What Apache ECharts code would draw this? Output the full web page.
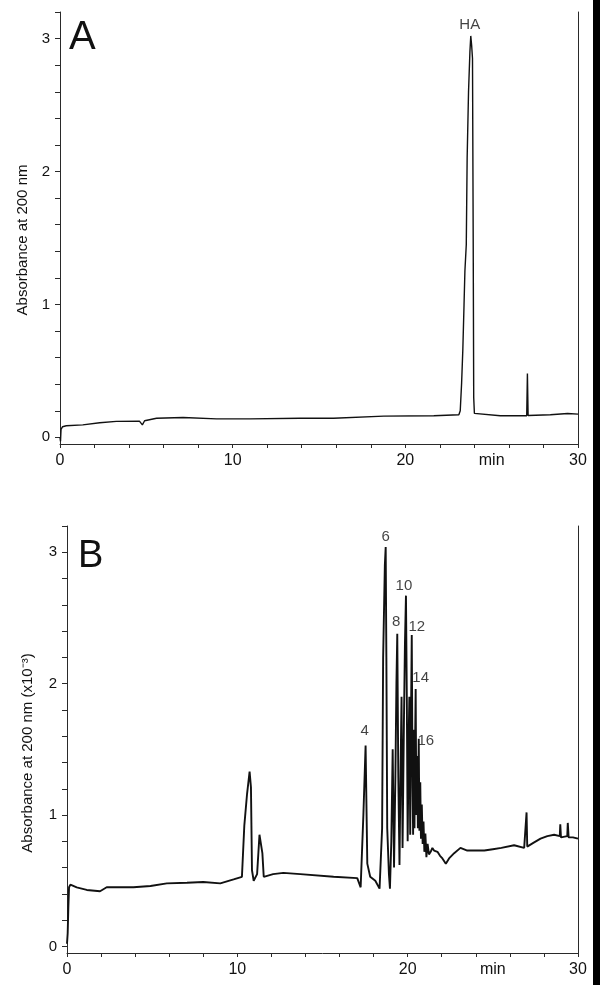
<!DOCTYPE html>
<html>
<head>
<meta charset="utf-8">
<title>HA chromatograms</title>
<script src="https://cdn.jsdelivr.net/npm/echarts@6/dist/echarts.min.js"></script>
<style>
	html, body { margin: 0; padding: 0; background: #fff; }
	#main { width: 600px; height: 985px; }
</style>
</head>
<body>
<div id="main"></div>
<script>
// panel A : HA standard, [min, absorbance]
var traceA = [
	[0, 0.0], [0.03, -0.03], [0.06, 0.06], [0.15, 0.08], [0.36, 0.087], [1.32, 0.094],
	[2.3, 0.11], [3.26, 0.12], [4.6, 0.122], [4.77, 0.094], [4.9, 0.125], [5.59, 0.144],
	[7.13, 0.149], [9.07, 0.139], [11, 0.139], [13.9, 0.144], [15.84, 0.144], [18.75, 0.16],
	[21.65, 0.162], [23.1, 0.17], [23.18, 0.2], [23.26, 0.41], [23.33, 0.66], [23.4, 1.0],
	[23.45, 1.25], [23.53, 1.45], [23.58, 2.1], [23.66, 2.6], [23.74, 2.9], [23.79, 3.02],
	[23.84, 2.95], [23.89, 2.85], [23.93, 1.5], [23.96, 0.3], [24.0, 0.18], [24.07, 0.175],
	[25.5, 0.162], [27.03, 0.162], [27.07, 0.48], [27.11, 0.164], [28.4, 0.17], [29.4, 0.18],
	[30, 0.175]
];
var peakNamesA = ['HA'];
var peakTimesA = [23.79];
var peakAbsA = [3.02];

// panel B : oligomer mixture, [min, absorbance x10^-3]
var traceB = [
	[0, 0.02], [0.04, 0.1], [0.08, 0.3], [0.12, 0.45], [0.2, 0.47], [0.57, 0.45], [1.16, 0.43],
	[1.94, 0.42], [2.33, 0.45], [3.9, 0.45], [4.9, 0.46], [5.86, 0.48], [7.04, 0.485], [8.0, 0.49],
	[9.0, 0.48], [9.78, 0.51], [10.27, 0.53], [10.41, 0.92], [10.57, 1.16], [10.72, 1.33],
	[10.8, 1.21], [10.86, 0.58], [10.96, 0.5], [11.16, 0.55], [11.3, 0.85], [11.39, 0.86],
	[11.47, 0.71], [11.55, 0.53], [12.1, 0.55], [12.7, 0.56], [13.7, 0.55], [15.65, 0.53],
	[17.04, 0.52], [17.24, 0.45], [17.4, 1.0], [17.53, 1.53], [17.63, 0.63], [17.8, 0.53],
	[18.1, 0.5], [18.35, 0.44], [18.5, 0.9], [18.56, 2.2], [18.66, 2.9], [18.71, 3.04],
	[18.75, 2.2], [18.8, 0.9], [18.9, 0.55], [18.96, 0.44], [19.04, 0.8], [19.12, 1.5],
	[19.2, 0.6], [19.28, 1.3], [19.34, 2.0], [19.39, 2.38], [19.45, 1.3], [19.52, 0.62],
	[19.58, 1.3], [19.64, 1.9], [19.7, 0.75], [19.78, 1.7], [19.84, 2.3], [19.9, 2.67],
	[19.95, 1.9], [20.0, 0.8], [20.06, 1.6], [20.1, 1.9], [20.15, 0.85], [20.2, 1.8],
	[20.24, 2.37], [20.29, 1.2], [20.32, 0.85], [20.36, 1.65], [20.4, 0.9], [20.44, 1.6],
	[20.47, 1.96], [20.51, 1.0], [20.56, 1.45], [20.6, 0.9], [20.65, 1.58], [20.69, 0.88],
	[20.74, 1.25], [20.78, 0.82], [20.83, 1.08], [20.88, 0.78], [20.93, 0.95], [20.98, 0.72],
	[21.04, 0.86], [21.1, 0.68], [21.17, 0.78], [21.25, 0.7], [21.35, 0.72], [21.45, 0.75],
	[21.55, 0.73], [21.75, 0.72], [21.9, 0.69], [22.04, 0.67], [22.24, 0.63], [22.43, 0.67],
	[22.73, 0.71], [23.1, 0.75], [23.5, 0.73], [23.9, 0.73], [24.5, 0.73], [25.0, 0.74],
	[25.5, 0.75], [26.25, 0.77], [26.84, 0.75], [26.95, 0.75], [26.98, 1.02], [27.02, 0.76],
	[27.4, 0.79], [27.8, 0.82], [28.2, 0.84], [28.6, 0.85], [28.93, 0.84], [28.96, 0.93],
	[29.0, 0.83], [29.37, 0.84], [29.4, 0.94], [29.45, 0.83], [29.7, 0.83], [30, 0.82]
];
var peakNamesB = ['4', '6', '8', '10', '12', '14', '16'];
var peakTimesB = [17.53, 18.71, 19.39, 19.9, 20.24, 20.47, 20.65];
var peakAbsB = [1.53, 3.04, 2.38, 2.67, 2.37, 1.96, 1.58];

// axes
var xTickValues = [0, 10, 20, 25, 30];
var xTickLabels = ['0', '10', '20', 'min', '30'];
var yLabelValues = [0, 1, 2, 3];
var yTickValues = [0, 0.2, 0.4, 0.6, 0.8, 1, 1.2, 1.4, 1.6, 1.8, 2, 2.2, 2.4, 2.6, 2.8, 3, 3.2];

/* ================================================================================ */
var Chromatogram = function() {
	var FONT = "'Liberation Sans', Arial, Helvetica, sans-serif";
	var INK = '#111';
	var AXIS = '#2a2a2a';

	// label offsets in px from the peak apex
	var labelOffsetA = [[-1, -11]];
	var labelOffsetB = [[-1, -15], [0, -10], [-1, -12], [-2, -10], [5, -8], [5, -11], [7, 2]];

	var buildLabels = function(names, times, values, offsets) {
		var out = [];
		for (var i = 0; i < names.length; i++) {
			out.push({
				value: [times[i], values[i], names[i]],
				label: { offset: offsets[i] }
			});
		}
		return out;
	};

	var xAxisFor = function(idx) {
		return {
			type: 'value', gridIndex: idx, min: 0, max: 30, interval: 10,
			axisLine: { show: true, onZero: false, lineStyle: { color: AXIS, width: 1 } },
			axisTick: { show: true, length: 4, lineStyle: { color: AXIS } },
			minorTick: { show: true, splitNumber: 5, length: 4, lineStyle: { color: AXIS } },
			splitLine: { show: false },
			axisLabel: {
				customValues: xTickValues, margin: 9, color: INK, fontSize: 16, fontFamily: FONT,
				formatter: function(v) {
					var k = xTickValues.indexOf(v);
					return k >= 0 ? xTickLabels[k] : '';
				}
			}
		};
	};

	var yAxisFor = function(idx, name, gap, pad) {
		return {
			type: 'value', gridIndex: idx, position: 'left', min: -0.05, max: 3.2,
			name: name, nameLocation: 'middle', nameGap: gap, nameRotate: 90,
			nameTextStyle: { color: INK, fontSize: 15, fontFamily: FONT, padding: [0, pad, 0, 0] },
			axisLine: { show: true, onZero: false, lineStyle: { color: AXIS, width: 1 } },
			axisTick: { show: true, length: 5, customValues: yTickValues, lineStyle: { color: AXIS } },
			splitLine: { show: false },
			axisLabel: { customValues: yLabelValues, margin: 10, color: INK, fontSize: 15, fontFamily: FONT }
		};
	};

	var frameFor = function(idx) {
		return {
			type: 'value', gridIndex: idx, position: 'right', min: -0.05, max: 3.2,
			axisLine: { show: true, onZero: false, lineStyle: { color: AXIS, width: 1 } },
			axisTick: { show: false }, axisLabel: { show: false }, splitLine: { show: false }
		};
	};

	var labelSeries = function(xi, yi, data) {
		return {
			type: 'scatter', xAxisIndex: xi, yAxisIndex: yi, symbolSize: 1, silent: true,
			itemStyle: { color: 'rgba(0,0,0,0)' },
			label: {
				show: true, position: 'inside', color: INK, fontSize: 15, fontFamily: FONT,
				formatter: function(p) { return p.value[2]; }
			},
			data: data
		};
	};

	var initChart = function() {
		var chart = echarts.init(document.getElementById('main'), null, { renderer: 'canvas' });
		var option = {
			animation: false,
			backgroundColor: '#fff',
			title: [
				{ text: 'A', left: 69, top: 18, padding: 0, textStyle: { fontSize: 40, fontWeight: 'normal', color: INK, fontFamily: FONT } },
				{ text: 'B', left: 78, top: 538, padding: 0, textStyle: { fontSize: 38, fontWeight: 'normal', color: INK, fontFamily: FONT } }
			],
			grid: [
				{ left: 60, right: 22, top: 12, bottom: 541 },
				{ left: 67, right: 22, top: 526, bottom: 32 }
			],
			xAxis: [xAxisFor(0), xAxisFor(1)],
			yAxis: [
				yAxisFor(0, 'Absorbance at 200 nm', 27, 24),
				frameFor(0),
				yAxisFor(1, 'Absorbance at 200 nm (x10\u207B\u00B3)', 32, 27),
				frameFor(1)
			],
			series: [
				{
					type: 'line', xAxisIndex: 0, yAxisIndex: 0, data: traceA, symbol: 'none',
					lineStyle: { color: INK, width: 1.4 }, silent: true
				},
				{
					type: 'line', xAxisIndex: 1, yAxisIndex: 2, data: traceB, symbol: 'none',
					lineStyle: { color: INK, width: 1.9 }, silent: true
				},
				labelSeries(0, 0, buildLabels(peakNamesA, peakTimesA, peakAbsA, labelOffsetA)),
				labelSeries(1, 2, buildLabels(peakNamesB, peakTimesB, peakAbsB, labelOffsetB))
			],
			graphic: [
				{ type: 'rect', right: 0, top: 0, shape: { width: 7, height: 985 }, style: { fill: '#000' } }
			]
		};
		chart.setOption(option);
	};

	return {
		init: function() {
			initChart();
		}
	};
}();

Chromatogram.init();
</script>
</body>
</html>
